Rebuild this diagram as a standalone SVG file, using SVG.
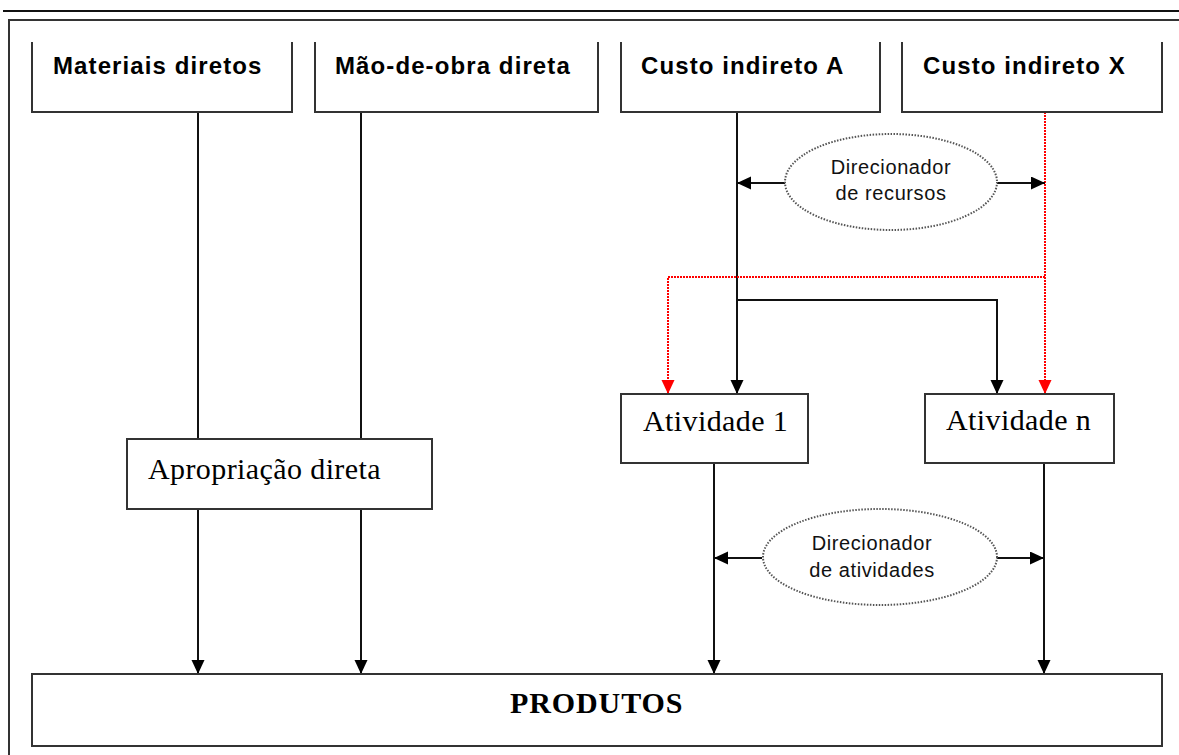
<svg xmlns="http://www.w3.org/2000/svg" width="1179" height="755" viewBox="0 0 1179 755">
  <defs>
    <style>
      .box { fill: #ffffff; stroke: #333333; stroke-width: 2; }
      .open { fill: #ffffff; stroke: #333333; stroke-width: 2; }
      .line { fill: none; stroke: #111111; stroke-width: 2; }
      .red { fill: none; stroke: #ff0000; stroke-width: 2; stroke-dasharray: 2 1; }
      .ell { fill: #ffffff; stroke: #555555; stroke-width: 2; stroke-dasharray: 1.5 1.5; }
      .head { font-family: "Liberation Sans", Arial, sans-serif; font-weight: bold; font-size: 24px; letter-spacing: 1.1px; fill: #000000; }
      .serif { font-family: "Liberation Serif", "Times New Roman", serif; font-size: 30px; letter-spacing: 0.4px; fill: #000000; }
      .prod { font-family: "Liberation Serif", "Times New Roman", serif; font-size: 30px; font-weight: bold; letter-spacing: 0.9px; fill: #000000; }
      .drv { font-family: "Liberation Sans", Arial, sans-serif; font-size: 20px; letter-spacing: 0.6px; fill: #111111; }
    </style>
    <marker id="arrow" markerUnits="userSpaceOnUse" markerWidth="15" markerHeight="14" refX="14" refY="6.5" orient="auto">
      <path d="M0,0 L14,6.5 L0,13 z" fill="#000000"/>
    </marker>
    <marker id="arrowRed" markerUnits="userSpaceOnUse" markerWidth="15" markerHeight="14" refX="14" refY="6.5" orient="auto">
      <path d="M0,0 L14,6.5 L0,13 z" fill="#ff0000"/>
    </marker>
  </defs>

  <rect x="0" y="0" width="1179" height="755" fill="#ffffff"/>

  <g id="frame">
    <line x1="3" y1="11" x2="1179" y2="11" stroke="#111111" stroke-width="2"/>
    <path d="M9,760 V20 H1185" fill="none" stroke="#333333" stroke-width="2"/>
  </g>

  <g id="connectors">
    <line class="line" x1="198" y1="112" x2="198" y2="439"/>
    <line class="line" x1="361" y1="112" x2="361" y2="439"/>
    <line class="line" x1="198" y1="509" x2="198" y2="674" marker-end="url(#arrow)"/>
    <line class="line" x1="361" y1="509" x2="361" y2="674" marker-end="url(#arrow)"/>
    <line class="line" x1="737" y1="112" x2="737" y2="394" marker-end="url(#arrow)"/>
    <path class="line" d="M737,300 H997 V394" marker-end="url(#arrow)"/>
    <line class="red" x1="1045" y1="112" x2="1045" y2="394" marker-end="url(#arrowRed)"/>
    <path class="red" d="M1045,277 H668 V394" marker-end="url(#arrowRed)"/>
    <line class="line" x1="785" y1="183" x2="737" y2="183" marker-end="url(#arrow)"/>
    <line class="line" x1="997" y1="183" x2="1045" y2="183" marker-end="url(#arrow)"/>
    <line class="line" x1="714" y1="463" x2="714" y2="674" marker-end="url(#arrow)"/>
    <line class="line" x1="1044" y1="463" x2="1044" y2="674" marker-end="url(#arrow)"/>
    <line class="line" x1="762" y1="558" x2="714" y2="558" marker-end="url(#arrow)"/>
    <line class="line" x1="997" y1="558" x2="1044" y2="558" marker-end="url(#arrow)"/>
  </g>

  <g id="materiais">
    <path class="open" d="M32,42 V112 H292 V42"/>
    <text class="head" x="53" y="74">Materiais diretos</text>
  </g>
  <g id="maodeobra">
    <path class="open" d="M315,42 V112 H598 V42"/>
    <text class="head" x="335" y="74">Mão-de-obra direta</text>
  </g>
  <g id="custoA">
    <path class="open" d="M621,42 V112 H880 V42"/>
    <text class="head" x="641" y="74">Custo indireto A</text>
  </g>
  <g id="custoX">
    <path class="open" d="M902,42 V112 H1162 V42"/>
    <text class="head" x="923" y="74">Custo indireto X</text>
  </g>

  <g id="direcionadorRecursos">
    <ellipse class="ell" cx="891" cy="182" rx="106" ry="48"/>
    <text class="drv" x="891" y="174" text-anchor="middle">Direcionador</text>
    <text class="drv" x="891" y="200" text-anchor="middle">de recursos</text>
  </g>

  <g id="atividade1">
    <rect class="box" x="621" y="394" width="187" height="69"/>
    <text class="serif" x="643" y="431">Atividade 1</text>
  </g>
  <g id="atividadeN">
    <rect class="box" x="925" y="394" width="189" height="69"/>
    <text class="serif" x="946" y="430">Atividade n</text>
  </g>

  <g id="apropriacao">
    <rect class="box" x="127" y="439" width="305" height="70"/>
    <text class="serif" x="148" y="479">Apropriação direta</text>
  </g>

  <g id="direcionadorAtividades">
    <ellipse class="ell" cx="880" cy="557" rx="117" ry="48"/>
    <text class="drv" x="872" y="550" text-anchor="middle">Direcionador</text>
    <text class="drv" x="872" y="577" text-anchor="middle">de atividades</text>
  </g>

  <g id="produtos">
    <rect class="box" x="32" y="674" width="1130" height="72"/>
    <text class="prod" x="510" y="713">PRODUTOS</text>
  </g>
</svg>
